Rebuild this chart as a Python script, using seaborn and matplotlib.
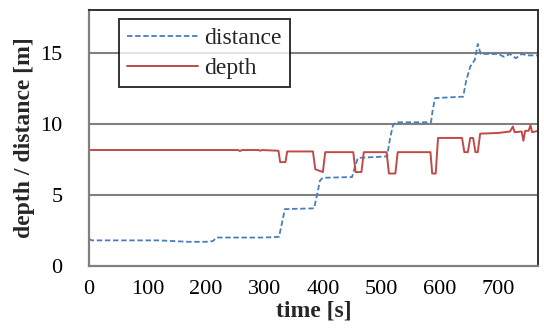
import matplotlib
matplotlib.use("Agg")
import matplotlib.pyplot as plt
import pandas as pd
import seaborn as sns

# distance readings (blue dashed)
dist_t = [0, 5, 60, 120, 170, 200, 212, 218, 300, 325, 330, 335, 385, 390,
          395, 400, 450, 455, 460, 510, 515, 520, 525, 585, 588, 592, 640,
          645, 652, 660, 665, 670, 700, 710, 720, 730, 740, 750, 768]
dist_v = [1.9, 1.8, 1.8, 1.8, 1.7, 1.7, 1.75, 2.0, 2.0, 2.05, 3.0, 4.0, 4.05,
          5.0, 6.0, 6.2, 6.25, 7.0, 7.6, 7.7, 9.0, 9.9, 10.1, 10.1, 11.0, 11.8,
          11.9, 13.0, 14.0, 14.5, 15.6, 14.9, 14.9, 14.7, 14.9, 14.6, 14.9,
          14.8, 14.8]

# depth readings (red solid)
depth_t = [0, 100, 200, 255, 258, 262, 290, 293, 296, 324, 327, 336, 339, 383,
           387, 400, 404, 452, 456, 466, 470, 509, 513, 524, 528, 584, 587,
           593, 597, 638, 642, 648, 652, 657, 661, 665, 669, 700, 720, 725,
           728, 740, 743, 746, 752, 755, 758, 768]
depth_v = [8.15, 8.15, 8.15, 8.15, 8.08, 8.15, 8.15, 8.1, 8.15, 8.1, 7.3, 7.3,
           8.05, 8.05, 6.8, 6.6, 8.0, 8.0, 6.6, 6.6, 8.0, 8.0, 6.5, 6.5, 8.0,
           8.0, 6.5, 6.5, 9.0, 9.0, 8.0, 8.0, 9.0, 9.0, 8.0, 8.0, 9.3, 9.35,
           9.45, 9.8, 9.4, 9.45, 8.8, 9.5, 9.5, 9.9, 9.4, 9.5]

x_ticks = [0, 100, 200, 300, 400, 500, 600, 700]
y_ticks = [0, 5, 10, 15]

sns.set_style("white")
plt.rcParams["font.family"] = ["Liberation Serif", "DejaVu Serif"]

dist_df = pd.DataFrame({"t": dist_t, "v": dist_v})
depth_df = pd.DataFrame({"t": depth_t, "v": depth_v})

fig = plt.figure(figsize=(5.44, 3.29), dpi=100)
ax = fig.add_axes([0.1636, 0.1915, 0.8254, 0.7785])

sns.lineplot(data=dist_df, x="t", y="v", ax=ax, color="#4a7ebb",
             linestyle=(0, (3, 1.5)), linewidth=1.3, label="distance")
sns.lineplot(data=depth_df, x="t", y="v", ax=ax, color="#be4b48",
             linewidth=1.4, label="depth")

ax.set_xlim(0, 768)
ax.set_ylim(0, 18)
ax.set_xticks(x_ticks)
ax.set_yticks(y_ticks)
for y in y_ticks[1:]:
    ax.axhline(y, color="#808080", linewidth=1.5, zorder=0)

ax.set_xlabel("time [s]", fontsize=17, fontweight="bold", labelpad=1)
ax.set_ylabel("depth / distance [m]", fontsize=17, fontweight="bold", labelpad=4)
ax.tick_params(axis="both", labelsize=16, colors="#404040", labelcolor="black")
ax.tick_params(axis="x", direction="inout", length=8, width=1.2, pad=6)
ax.tick_params(axis="y", direction="out", length=7, width=1.5, pad=12,
               color="#808080")

for side in ["left", "bottom"]:
    ax.spines[side].set_color("#808080")
    ax.spines[side].set_linewidth(1.6)
for side in ["top", "right"]:
    ax.spines[side].set_color("#303030")
    ax.spines[side].set_linewidth(1.4)

leg = ax.legend(loc="upper left", bbox_to_anchor=(0.067, 0.963), fontsize=17,
                frameon=True, fancybox=False, edgecolor="black",
                handlelength=3.0, handletextpad=0.25, borderpad=0.35,
                labelspacing=0.35, borderaxespad=0)
leg.get_frame().set_linewidth(1.4)

fig.savefig("out.png", dpi=100)
